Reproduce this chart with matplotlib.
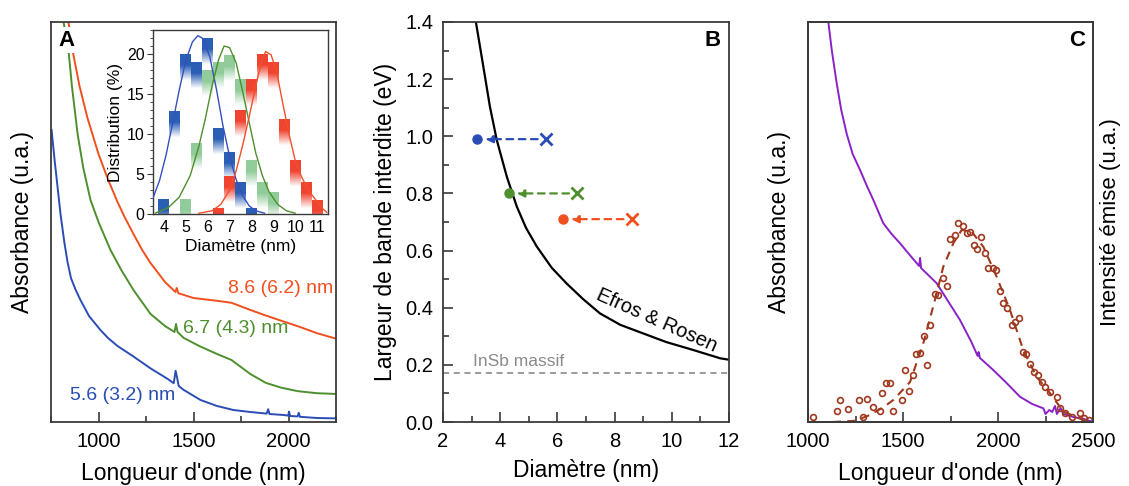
import numpy as np
import matplotlib
matplotlib.use("Agg")
import matplotlib.pyplot as plt
from matplotlib.colors import to_rgb
from matplotlib.ticker import MultipleLocator, FormatStrFormatter

plt.rcParams["font.family"] = ["Liberation Sans", "DejaVu Sans"]

BLUE = "#2A4DB5"
GREEN = "#4E8F2E"
RED = "#F0501E"
PURPLE = "#8A22C8"
BROWN = "#A0381E"
FRAME = "#3a3a3a"

# --- panel A: absorbance spectra ---
wl_blue = [753, 770, 784, 800, 820, 837, 855, 880, 905, 950, 1010, 1050, 1100, 1180,
           1274, 1363, 1396, 1406, 1414, 1422, 1449, 1537, 1624, 1710, 1799, 1885,
           1893, 1900, 1975, 1998, 2003, 2008, 2048, 2054, 2060, 2150, 2253]
abs_blue = [0.73, 0.65, 0.59, 0.52, 0.45, 0.40, 0.36, 0.33, 0.305, 0.265, 0.23,
            0.21, 0.19, 0.165, 0.134, 0.108, 0.097, 0.128, 0.11, 0.09, 0.08, 0.055,
            0.04, 0.03, 0.025, 0.021, 0.032, 0.02, 0.0175, 0.016, 0.026, 0.015, 0.014,
            0.023, 0.013, 0.01, 0.009]
wl_green = [800, 816, 842, 860, 890, 920, 958, 1000, 1063, 1120, 1184, 1274, 1350,
            1400, 1408, 1416, 1449, 1530, 1624, 1700, 1799, 1880, 1960, 2050, 2150,
            2253]
abs_green = [1.05, 1.0, 0.93, 0.84, 0.72, 0.635, 0.555, 0.50, 0.43, 0.38, 0.33, 0.27,
             0.24, 0.225, 0.245, 0.225, 0.21, 0.19, 0.17, 0.155, 0.12, 0.098, 0.086,
             0.077, 0.072, 0.07]
wl_red = [830, 842, 863, 900, 942, 1000, 1047, 1100, 1140, 1184, 1230, 1270, 1350,
          1405, 1412, 1420, 1500, 1624, 1700, 1800, 1870, 1950, 2046, 2150, 2253]
abs_red = [1.05, 1.0, 0.93, 0.84, 0.76, 0.67, 0.61, 0.55, 0.51, 0.47, 0.43, 0.40,
           0.35, 0.325, 0.335, 0.322, 0.31, 0.303, 0.298, 0.28, 0.268, 0.255, 0.24,
           0.222, 0.208]
size_labels = ["5.6 (3.2) nm", "6.7 (4.3) nm", "8.6 (6.2) nm"]

# --- inset: size distributions ---
hist_x_blue = [4.0, 4.5, 5.0, 5.5, 6.0, 6.5, 7.0, 7.5, 8.0]
hist_y_blue = [1.8, 12.8, 19.9, 18.9, 21.9, 10.75, 7.75, 3.9, 0.75]
hist_x_green = [5.0, 5.5, 6.0, 6.5, 7.0, 7.5, 8.0, 8.5, 9.0]
hist_y_green = [1.8, 8.8, 17.9, 18.9, 19.8, 16.8, 6.7, 3.9, 2.75]
hist_x_red = [6.5, 7.0, 7.5, 8.0, 8.5, 9.0, 9.5, 10.0, 10.5, 11.0]
hist_y_red = [0.75, 4.7, 12.9, 16.8, 20.0, 18.9, 11.8, 6.7, 3.9, 1.7]

fit_x_blue = [3.5, 3.8, 4.1, 4.4, 4.7, 5.0, 5.3, 5.55, 5.8, 6.1, 6.4, 6.7, 7.0, 7.3,
              7.6, 7.9, 8.2, 8.6]
fit_y_blue = [2.0, 4.2, 7.4, 11.4, 15.5, 19.2, 21.5, 22.3, 21.9, 19.6, 15.6, 11.0,
              7.2, 4.3, 2.3, 1.0, 0.4, 0.1]
fit_x_green = [3.6, 4.2, 4.7, 5.2, 5.6, 5.9, 6.2, 6.5, 6.75, 7.0, 7.3, 7.6, 7.9, 8.2,
               8.5, 8.8, 9.2, 9.6, 10.0]
fit_y_green = [0.1, 0.8, 2.1, 4.8, 8.5, 12.0, 16.0, 19.3, 21.0, 20.8, 18.9, 15.3,
               11.4, 7.6, 4.8, 2.8, 1.2, 0.4, 0.1]
fit_x_red = [5.6, 6.2, 6.6, 7.0, 7.3, 7.6, 7.9, 8.2, 8.45, 8.65, 8.9, 9.15, 9.4, 9.7,
             10.0, 10.3, 10.6, 10.9, 11.2, 11.45]
fit_y_red = [0.1, 0.4, 1.2, 3.0, 5.4, 8.6, 12.2, 16.0, 19.0, 20.3, 19.9, 17.8, 14.3,
             10.2, 6.7, 4.6, 3.0, 1.9, 0.8, 0.2]

# --- panel B: band gap vs diameter ---
er_d = [3.15, 3.41, 3.64, 3.88, 4.23, 4.58, 4.9, 5.28, 5.8, 6.32, 6.9, 7.49, 8.2,
        9.0, 9.8, 10.75, 11.69, 12.0]
er_e = [1.40, 1.244, 1.104, 0.987, 0.859, 0.754, 0.68, 0.614, 0.54, 0.485, 0.43,
        0.38, 0.34, 0.31, 0.28, 0.252, 0.223, 0.218]
tem_d = [3.2, 4.3, 6.2]
pl_d = [5.6, 6.7, 8.6]
gap_e = [0.99, 0.80, 0.71]
bulk_gap = 0.17

# --- panel C: absorbance + emission ---
wl_abs_c = [1095, 1107, 1125, 1151, 1175, 1204, 1235, 1274, 1310, 1344, 1396, 1440,
            1484, 1540, 1585, 1590, 1595, 1677, 1740, 1800, 1860, 1893, 1898, 1905,
            1975, 2040, 2116, 2180, 2239, 2250, 2270, 2285, 2300, 2310, 2330, 2345,
            2400, 2450, 2500]
abs_c = [1.05, 1.0, 0.93, 0.847, 0.78, 0.72, 0.67, 0.63, 0.59, 0.555, 0.497, 0.47,
         0.447, 0.415, 0.39, 0.41, 0.385, 0.347, 0.30, 0.255, 0.2, 0.165, 0.175, 0.16,
         0.13, 0.1, 0.063, 0.045, 0.034, 0.02, 0.03, 0.025, 0.04, 0.02, 0.035, 0.02,
         0.012, 0.008, 0.0]
em_wl = [1028, 1151, 1168, 1209, 1270, 1291, 1309, 1344, 1379, 1391, 1411, 1432, 1449,
         1493, 1511, 1533, 1551, 1568, 1589, 1611, 1628, 1642, 1668, 1686, 1712, 1733,
         1747, 1774, 1791, 1814, 1835, 1853, 1874, 1891, 1909, 1932, 1949, 1972, 1989,
         2011, 2028, 2049, 2072, 2089, 2111, 2130, 2147, 2168, 2191, 2212, 2230, 2247,
         2274, 2312, 2326, 2353, 2388, 2432, 2453, 2480]
em_int = [0.013, 0.0275, 0.055, 0.0325, 0.055, 0.013, 0.057, 0.038, 0.028, 0.073,
          0.097, 0.098, 0.028, 0.055, 0.13, 0.078, 0.118, 0.17, 0.172, 0.215, 0.142,
          0.2425, 0.32, 0.3175, 0.359, 0.34, 0.457, 0.4675, 0.497, 0.49, 0.473, 0.476,
          0.4425, 0.432, 0.462, 0.423, 0.384, 0.384, 0.38, 0.328, 0.298, 0.284, 0.2425,
          0.251, 0.259, 0.176, 0.17, 0.145, 0.126, 0.1175, 0.10, 0.088, 0.076, 0.062,
          0.034, 0.022, 0.013, 0.022, 0.01, 0.005]
em_fit_wl = [1130, 1247, 1326, 1400, 1449, 1537, 1607, 1668, 1712, 1765, 1809, 1861,
             1923, 1993, 2063, 2133, 2203, 2274, 2344, 2449, 2500]
em_fit_int = [0.0, 0.003, 0.0175, 0.038, 0.055, 0.10, 0.197, 0.305, 0.388, 0.447,
              0.48, 0.476, 0.438, 0.363, 0.28, 0.18, 0.113, 0.072, 0.026, 0.005, 0.0]

W, H = 1129, 486
fig = plt.figure(figsize=(W / 100, H / 100), dpi=100)


def frame(ax):
    for s in ax.spines.values():
        s.set_color(FRAME)
        s.set_linewidth(1.3)


def px_axes(l, t, r, b):
    return fig.add_axes([l / W, 1 - b / H, (r - l) / W, (b - t) / H])


# ---------- A ----------
axA = px_axes(51, 22, 336, 422)
axA.plot(wl_blue, abs_blue, color=BLUE, lw=1.4)
axA.plot(wl_green, abs_green, color=GREEN, lw=1.4)
axA.plot(wl_red, abs_red, color=RED, lw=1.4)
axA.set_xlim(750, 2250)
axA.set_ylim(0, 1)
axA.set_yticks([])
axA.xaxis.set_major_locator(MultipleLocator(500))
axA.xaxis.set_minor_locator(MultipleLocator(250))
axA.tick_params(axis="x", which="both", direction="in", labelsize=14.5, pad=7,
                color=FRAME, width=1.2)
axA.tick_params(axis="x", which="major", length=7)
axA.tick_params(axis="x", which="minor", length=4)
axA.set_xlabel("Longueur d'onde (nm)", fontsize=16.5, labelpad=8)
axA.set_ylabel("Absorbance (u.a.)", fontsize=16.5, labelpad=12)
axA.text(1958, 0.335, size_labels[2], color=RED, fontsize=14, ha="center", va="center")
axA.text(1721, 0.235, size_labels[1], color=GREEN, fontsize=14, ha="center", va="center")
axA.text(1126, 0.0675, size_labels[0], color=BLUE, fontsize=14, ha="center", va="center")
axA.text(0.056, 0.955, "A", transform=axA.transAxes, fontsize=16, fontweight="bold",
         ha="center", va="center",
         bbox=dict(facecolor="white", edgecolor="none", pad=2))
frame(axA)

# ---------- inset ----------
axI = px_axes(153, 30, 328, 214)


def gradient_squares(ax, xs, ys, color, top_alpha):
    # each bin drawn as a small cap, solid on top and fading downwards
    h = 3.2
    n = 64
    alpha = np.ones(n) * top_alpha
    k = np.arange(n)
    fade = k >= int(n * 0.42)
    alpha[fade] = top_alpha * (1 - (k[fade] - n * 0.42) / (n * 0.58))
    img = np.zeros((n, 1, 4))
    img[:, 0, :3] = to_rgb(color)
    img[:, 0, 3] = np.clip(alpha, 0, 1)
    for x, v in zip(xs, ys):
        ax.imshow(img, extent=[x - 0.25, x + 0.25, v - h, v], origin="upper",
                  aspect="auto", interpolation="bilinear", zorder=2)


gradient_squares(axI, hist_x_blue, hist_y_blue, "#1F56B0", 0.95)
gradient_squares(axI, hist_x_green, hist_y_green, "#6CBB78", 0.75)
gradient_squares(axI, hist_x_red, hist_y_red, "#F03A26", 0.95)
axI.plot(fit_x_blue, fit_y_blue, color="#3350C0", lw=1.0, zorder=3)
axI.plot(fit_x_green, fit_y_green, color="#4E8F2E", lw=1.0, zorder=3)
axI.plot(fit_x_red, fit_y_red, color="#F0502A", lw=1.0, zorder=3)
axI.set_xlim(3.5, 11.5)
axI.set_ylim(0, 23)
axI.set_xticks(range(4, 12))
axI.yaxis.set_major_locator(MultipleLocator(5))
axI.yaxis.set_minor_locator(MultipleLocator(1))
axI.tick_params(axis="x", length=0, labelsize=11.5, pad=4)
axI.tick_params(axis="y", which="major", length=4, direction="out", labelsize=11.5,
                pad=2, color=FRAME)
axI.tick_params(axis="y", which="minor", length=2.5, direction="out", color=FRAME)
axI.set_xlabel("Diamètre (nm)", fontsize=12.5, labelpad=3)
axI.set_ylabel("Distribution (%)", fontsize=12.5, labelpad=3)
for s in axI.spines.values():
    s.set_color(FRAME)
    s.set_linewidth(1.0)

# ---------- B ----------
axB = px_axes(443, 22, 729, 422)
axB.plot(er_d, er_e, color="black", lw=1.6)
axB.axhline(bulk_gap, color="#808080", lw=1.1, ls=(0, (4, 3)))
axB.text(3.05, bulk_gap + 0.041, "InSb massif", color="#8a8a8a", fontsize=12.5,
         ha="left", va="center")
axB.text(9.47, 0.357, "Efros & Rosen", fontsize=14.5, rotation=-24,
         ha="center", va="center")
for d_t, d_p, e, c in zip(tem_d, pl_d, gap_e, [BLUE, GREEN, RED]):
    axB.annotate("", xy=(d_t + 0.28, e), xytext=(d_p, e),
                 arrowprops=dict(arrowstyle="-|>", linestyle=(0, (3, 2.5)), color=c,
                                 lw=1.6, shrinkA=6, shrinkB=0, mutation_scale=11))
    axB.plot(d_t, e, "o", color=c, ms=6.5)
    axB.plot(d_p, e, "x", color=c, ms=8.5, mew=2)
axB.set_xlim(2, 12)
axB.set_ylim(0, 1.4)
axB.xaxis.set_major_locator(MultipleLocator(2))
axB.xaxis.set_minor_locator(MultipleLocator(1))
axB.yaxis.set_major_locator(MultipleLocator(0.2))
axB.yaxis.set_minor_locator(MultipleLocator(0.1))
axB.yaxis.set_major_formatter(FormatStrFormatter("%.1f"))
axB.tick_params(which="both", direction="in", labelsize=14.5, color=FRAME, width=1.2)
axB.tick_params(which="major", length=7, pad=7)
axB.tick_params(which="minor", length=4)
axB.set_xlabel("Diamètre (nm)", fontsize=16.5, labelpad=6)
axB.set_ylabel("Largeur de bande interdite (eV)", fontsize=16.5, labelpad=6)
axB.text(0.944, 0.955, "B", transform=axB.transAxes, fontsize=16, fontweight="bold",
         ha="center", va="center")
frame(axB)

# ---------- C ----------
axC = px_axes(808, 22, 1093, 422)
axC.plot(wl_abs_c, abs_c, color=PURPLE, lw=1.4)
axC.plot(em_fit_wl, em_fit_int, color=BROWN, lw=1.5, ls=(0, (4, 3)))
axC.plot(em_wl, em_int, "o", mfc="none", mec=BROWN, ms=4.2, mew=1.2)
axC.set_xlim(1000, 2500)
axC.set_ylim(0, 1)
axC.set_yticks([])
axC.xaxis.set_major_locator(MultipleLocator(500))
axC.xaxis.set_minor_locator(MultipleLocator(250))
axC.tick_params(axis="x", which="both", direction="in", labelsize=14.5, pad=7,
                color=FRAME, width=1.2)
axC.tick_params(axis="x", which="major", length=7)
axC.tick_params(axis="x", which="minor", length=4)
axC.set_xlabel("Longueur d'onde (nm)", fontsize=16.5, labelpad=8)
axC.set_ylabel("Absorbance (u.a.)", fontsize=16.5, labelpad=12)
axC2 = axC.twinx()
axC2.set_yticks([])
axC2.set_ylabel("Intensité émise (u.a.)", fontsize=16, labelpad=5)
axC.text(0.944, 0.955, "C", transform=axC.transAxes, fontsize=16, fontweight="bold",
         ha="center", va="center")
frame(axC)
frame(axC2)

fig.savefig("out.png", dpi=100)
